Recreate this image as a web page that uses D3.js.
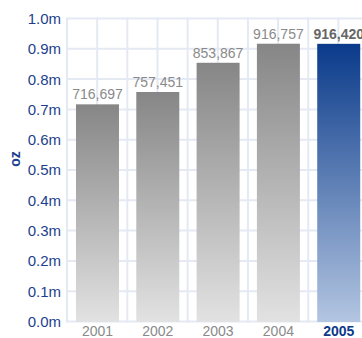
<!DOCTYPE html>
<html>
<head>
<meta charset="utf-8">
<script src="https://cdn.jsdelivr.net/npm/d3@7/dist/d3.min.js"></script>
<style>
  html, body { margin: 0; padding: 0; background: #fff; }
  svg { display: block; font-family: "Liberation Sans", Arial, sans-serif; }
</style>
</head>
<body>
<svg id="chart" width="362" height="338"></svg>
<script>
// Annual output, ounces
const years = ["2001", "2002", "2003", "2004", "2005"];
const ounces = [716697, 757451, 853867, 916757, 916420];
const yTicks = [0, 0.1, 0.2, 0.3, 0.4, 0.5, 0.6, 0.7, 0.8, 0.9, 1.0];
const yTitle = "oz";
const highlightYear = "2005";

const svg = d3.select("#chart");
const plot = { left: 67, top: 18.5, bottom: 321.5 };

const x = d3.scaleBand()
  .domain(years)
  .range([plot.left, 369.2])
  .paddingInner(0.287)
  .paddingOuter(0.149)
  .align(0.5);

const y = d3.scaleLinear()
  .domain([0, 1000000])
  .range([plot.bottom, plot.top]);

// gradients
const defs = svg.append("defs");
function grad(id, top, bottom) {
  const g = defs.append("linearGradient")
    .attr("id", id).attr("x1", 0).attr("y1", 0).attr("x2", 0).attr("y2", 1);
  g.append("stop").attr("offset", 0).attr("stop-color", top);
  g.append("stop").attr("offset", 1).attr("stop-color", bottom);
}
grad("gGray", "#868686", "#e2e2e2");
grad("gBlue", "#0a3a8a", "#b3c5e1");

const gridColor = "#e4e9f3";

// horizontal grid
svg.append("g").selectAll("line")
  .data(yTicks)
  .join("line")
  .attr("x1", plot.left).attr("x2", 362)
  .attr("y1", d => y(d * 1e6)).attr("y2", d => y(d * 1e6))
  .attr("stroke", gridColor).attr("stroke-width", 2);

// vertical grid at half-band intervals
const half = x.step() / 2;
const vLines = d3.range(0, 11).map(k => plot.left + k * half);
svg.append("g").selectAll("line")
  .data(vLines)
  .join("line")
  .attr("x1", d => d).attr("x2", d => d)
  .attr("y1", plot.top - 1).attr("y2", plot.bottom + 1)
  .attr("stroke", gridColor).attr("stroke-width", 2);

// y axis labels
svg.append("g").selectAll("text")
  .data(yTicks)
  .join("text")
  .attr("x", 61)
  .attr("y", d => y(d * 1e6))
  .attr("dy", "0.36em")
  .attr("text-anchor", "end")
  .attr("font-size", 15)
  .attr("fill", "#1d3f8e")
  .text(d => d.toFixed(1) + "m");

svg.append("text")
  .attr("transform", "translate(20,159) rotate(-90)")
  .attr("text-anchor", "middle")
  .attr("font-size", 14)
  .attr("font-weight", "bold")
  .attr("fill", "#1d3f8e")
  .text(yTitle);

// bars
const data = years.map((yr, i) => ({ year: yr, value: ounces[i] }));
svg.append("g").selectAll("rect")
  .data(data)
  .join("rect")
  .attr("x", d => x(d.year))
  .attr("y", d => y(d.value))
  .attr("width", x.bandwidth())
  .attr("height", d => y(0) - y(d.value) + 0.5)
  .attr("fill", d => d.year === highlightYear ? "url(#gBlue)" : "url(#gGray)");

// value labels
const fmt = d3.format(",");
svg.append("g").selectAll("text")
  .data(data)
  .join("text")
  .attr("x", d => x(d.year) + x.bandwidth() / 2)
  .attr("y", d => y(d.value) - 5)
  .attr("text-anchor", "middle")
  .attr("font-size", 14)
  .attr("font-weight", d => d.year === highlightYear ? "bold" : "normal")
  .attr("fill", d => d.year === highlightYear ? "#666" : "#8a8a8a")
  .text(d => fmt(d.value));

// year labels
svg.append("g").selectAll("text")
  .data(years)
  .join("text")
  .attr("x", d => x(d) + x.bandwidth() / 2)
  .attr("y", 336)
  .attr("text-anchor", "middle")
  .attr("font-size", 14)
  .attr("font-weight", d => d === highlightYear ? "bold" : "normal")
  .attr("fill", d => d === highlightYear ? "#0d3a8a" : "#8a8a8a")
  .text(d => d);
</script>
</body>
</html>
